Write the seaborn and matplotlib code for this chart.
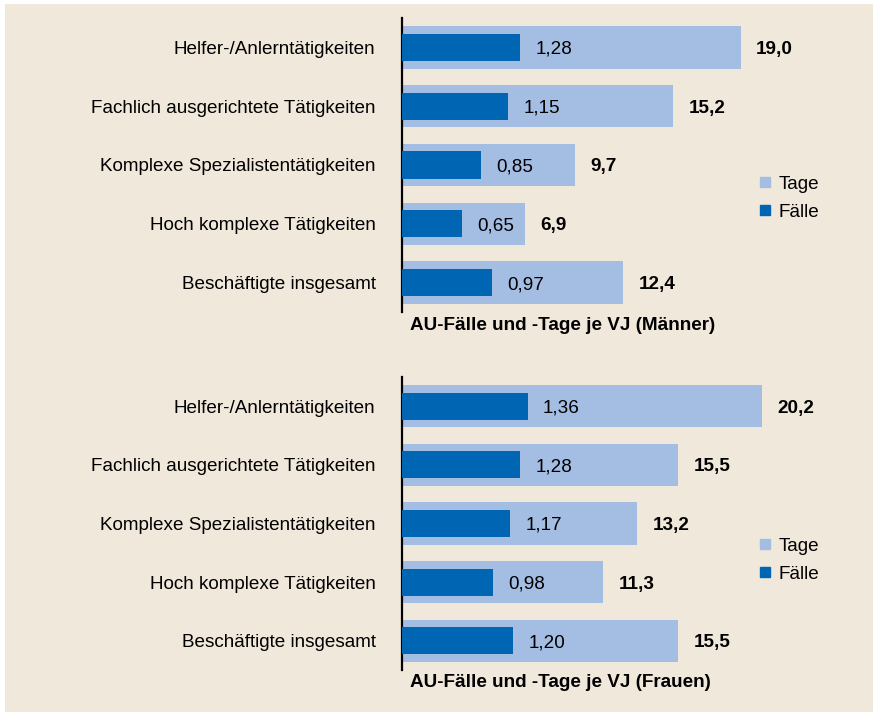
import seaborn as sns
import pandas as pd
import matplotlib.pyplot as plt
from matplotlib.lines import Line2D
from matplotlib.patches import Rectangle

categories = ['Helfer-/Anlerntätigkeiten', 'Fachlich ausgerichtete Tätigkeiten',
              'Komplexe Spezialistentätigkeiten', 'Hoch komplexe Tätigkeiten',
              'Beschäftigte insgesamt']
tage_maenner = [19.0, 15.2, 9.7, 6.9, 12.4]
faelle_maenner = [1.28, 1.15, 0.85, 0.65, 0.97]
tage_frauen = [20.2, 15.5, 13.2, 11.3, 15.5]
faelle_frauen = [1.36, 1.28, 1.17, 0.98, 1.20]
titles = ['AU-Fälle und -Tage je VJ (Männer)', 'AU-Fälle und -Tage je VJ (Frauen)']

BG = '#F1E8DC'
C_TAGE = '#A4BDE3'
C_FAELLE = '#0066B3'
FS = 13.6

sns.set_style('white')
plt.rcParams['font.family'] = ['Liberation Sans', 'DejaVu Sans']
plt.rcParams['text.color'] = 'black'
plt.rcParams['ytick.color'] = 'black'

W, H = 873, 712
fig = plt.figure(figsize=(W / 100, H / 100), dpi=100)
fig.patch.set_facecolor('white')
fig.patches.append(Rectangle((5 / W, 0), 1, 1 - 4 / H, transform=fig.transFigure,
                             facecolor=BG, edgecolor='none', zorder=-10))

def px_axes(x0, y0, x1, y1):
    return fig.add_axes([x0 / W, 1 - y1 / H, (x1 - x0) / W, (y1 - y0) / H])

def drawPanel(ax, tage, faelle, title, legend_y):
    df = pd.DataFrame({'Kategorie': categories, 'Tage': tage, 'Fälle': faelle})
    ax.set_facecolor('none')
    sns.barplot(data=df, y='Kategorie', x='Tage', orient='h', color=C_TAGE,
                width=0.72, saturation=1, linewidth=0, ax=ax)
    ax.set_xlim(0, 448 / 17.83)
    ax.set_ylim(4.5, -0.5)
    ax2 = ax.twiny()
    sns.barplot(data=df, y='Kategorie', x='Fälle', orient='h', color=C_FAELLE,
                width=0.46, saturation=1, linewidth=0, ax=ax2)
    ax2.set_xlim(0, 448 / 92.4)
    ax2.set_ylim(4.5, -0.5)
    for a in (ax, ax2):
        for s in ['top', 'right', 'bottom']:
            a.spines[s].set_visible(False)
        a.set_xticks([])
        a.set_xlabel('')
        a.set_ylabel('')
    ax2.spines['left'].set_visible(False)
    ax.spines['left'].set_color('black')
    ax.spines['left'].set_linewidth(1.6)
    ax.tick_params(axis='y', length=0, pad=19, labelsize=FS)
    for i, (t, f) in enumerate(zip(tage, faelle)):
        ax.annotate(f'{t:.1f}'.replace('.', ','), (t, i), xytext=(11, 0),
                    textcoords='offset points', va='center_baseline', ha='left',
                    fontsize=FS, fontweight='bold')
        ax2.annotate(f'{f:.2f}'.replace('.', ','), (f, i), xytext=(11, 0),
                     textcoords='offset points', va='center_baseline', ha='left',
                     fontsize=FS)
    ax.text(8 / 448, -13 / 294, title, transform=ax.transAxes, ha='left',
            va='center', fontsize=FS, fontweight='bold')
    handles = [Line2D([], [], marker='s', linestyle='', color=C_TAGE, markersize=7.4),
               Line2D([], [], marker='s', linestyle='', color=C_FAELLE, markersize=7.4)]
    fig.legend(handles, ['Tage', 'Fälle'], loc='center left',
               bbox_to_anchor=(758 / W, 1 - legend_y / H), frameon=False,
               fontsize=FS, handlelength=0.7, handletextpad=0.4,
               labelspacing=0.56, borderpad=0, borderaxespad=0)

ax_m = px_axes(402, 18, 850, 312)
drawPanel(ax_m, tage_maenner, faelle_maenner, titles[0], 198)
ax_f = px_axes(402, 377, 850, 670)
drawPanel(ax_f, tage_frauen, faelle_frauen, titles[1], 560)

fig.savefig('out.png', dpi=100, facecolor='white')
